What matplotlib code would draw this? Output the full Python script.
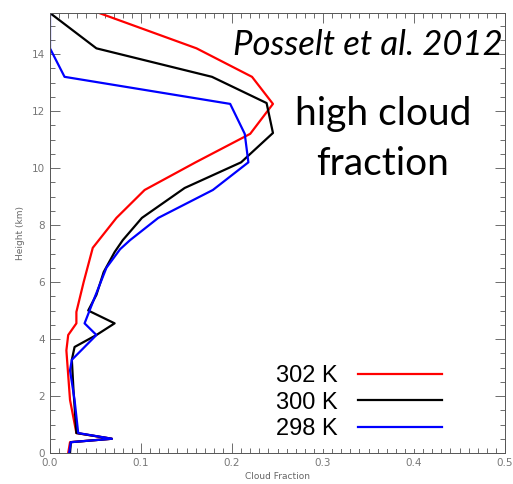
import matplotlib
matplotlib.use("Agg")
import matplotlib.pyplot as plt
from matplotlib.ticker import MultipleLocator

# ---- data ----
h_302 = [15.44, 14.2, 13.2, 12.25, 11.2, 10.2, 9.23, 8.25, 7.2, 6.0, 4.95, 4.55, 4.14, 3.6, 1.86, 0.7, 0.5, 0.38, 0.0]
cf_302 = [0.054, 0.161, 0.222, 0.245, 0.220, 0.160, 0.104, 0.073, 0.047, 0.037, 0.029, 0.029, 0.020, 0.018, 0.022, 0.029, 0.068, 0.022, 0.020]

h_300 = [15.44, 14.2, 13.2, 12.28, 11.23, 10.2, 9.3, 8.25, 7.47, 7.05, 6.35, 5.55, 5.0, 4.55, 4.14, 3.72, 3.27, 2.1, 0.7, 0.5, 0.38, 0.0]
cf_300 = [0.0, 0.051, 0.178, 0.238, 0.245, 0.210, 0.148, 0.101, 0.080, 0.071, 0.059, 0.051, 0.042, 0.071, 0.051, 0.027, 0.024, 0.026, 0.029, 0.068, 0.023, 0.022]

h_298 = [15.44, 14.2, 13.2, 12.25, 11.2, 10.2, 9.23, 8.25, 7.47, 7.15, 6.5, 5.37, 4.55, 4.14, 3.27, 2.9, 1.86, 0.7, 0.5, 0.38, 0.0]
cf_298 = [0.0, 0.0, 0.016, 0.198, 0.214, 0.218, 0.179, 0.119, 0.088, 0.077, 0.062, 0.048, 0.038, 0.051, 0.024, 0.022, 0.027, 0.031, 0.068, 0.023, 0.021]

labels = ["302 K", "300 K", "298 K"]
colors = ["#ff0000", "#000000", "#0000ff"]

x_ticks = [0.0, 0.1, 0.2, 0.3, 0.4, 0.5]
y_ticks = [0, 2, 4, 6, 8, 10, 12, 14]

fig = plt.figure(figsize=(5.13, 4.84), dpi=100)
ax = fig.add_axes([50/513, 1-453/484, 455/513, 440/484])

handles = []
for h, cf, lab, c in zip([h_302, h_300, h_298], [cf_302, cf_300, cf_298], labels, colors):
    ln, = ax.plot(cf, h, color=c, lw=1.6, label=lab, clip_on=True)
    handles.append(ln)

ax.set_xlim(0, 0.5)
ax.set_ylim(0, 15.44)
ax.set_xticks(x_ticks)
ax.set_xticklabels([f"{v:.1f}" for v in x_ticks])
ax.set_yticks(y_ticks)
ax.xaxis.set_minor_locator(MultipleLocator(0.01))
ax.yaxis.set_minor_locator(MultipleLocator(0.5))
ax.tick_params(which='both', direction='in', top=True, right=True, colors='#555555',
               labelcolor='#777777', labelsize=7.5, width=0.6)
ax.tick_params(which='major', length=7)
ax.tick_params(which='minor', length=3.5)
for s in ax.spines.values():
    s.set_color('#555555')
    s.set_linewidth(0.7)

ax.set_xlabel("Cloud Fraction", fontsize=6.5, color='#666666', labelpad=3)
ax.set_ylabel("Height (km)", fontsize=6.5, color='#666666', labelpad=5)

leg = ax.legend(handles=handles, labels=labels, markerfirst=False,
                prop={'family': 'Liberation Sans', 'size': 17},
                handlelength=3.56, handletextpad=0.85, labelspacing=0.19,
                frameon=True, loc='lower right', bbox_to_anchor=(0.882, 0.008),
                borderaxespad=0, borderpad=0.4)
leg.get_frame().set_edgecolor('none')
leg.get_frame().set_facecolor('white')
leg.get_frame().set_alpha(1)

fig.text(503/513, 1-45/484, "Posselt et al. 2012", fontsize=25, style='italic',
         family='Lato', ha='right', va='center')
fig.text(383/513, 1-114/484, "high cloud", fontsize=28, family='Lato', ha='center', va='center')
fig.text(383/513, 1-164/484, "fraction", fontsize=28, family='Lato', ha='center', va='center')

fig.savefig("out.png", dpi=100)
